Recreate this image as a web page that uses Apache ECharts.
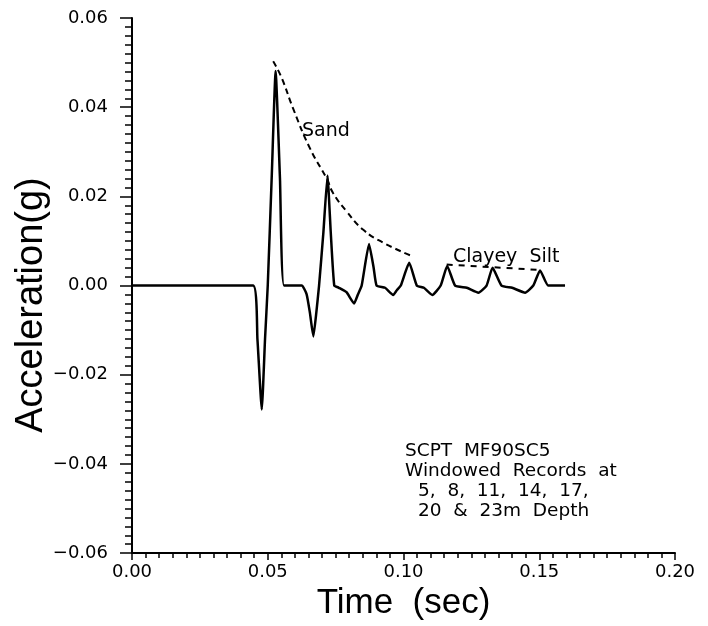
<!DOCTYPE html>
<html>
<head>
<meta charset="utf-8">
<script src="https://cdn.jsdelivr.net/npm/echarts@6/dist/echarts.min.js"></script>
<style>html,body{margin:0;padding:0;background:#fff;}#c{width:708px;height:626px;}</style>
</head>
<body>
<div id="c"></div>
<script>
// Recorded waveform (time in s, acceleration in g)
const traceTime = [0, 0.0446, 0.0462, 0.0478, 0.0490, 0.0500, 0.0515, 0.0529, 0.0545, 0.0560,
  0.0625, 0.0643, 0.0655, 0.0668, 0.0679, 0.0689, 0.0705, 0.0720, 0.0732, 0.0745,
  0.0762, 0.0790, 0.0818, 0.0832, 0.0846, 0.0873, 0.0890, 0.0901,
  0.0932, 0.0962, 0.0976, 0.0990, 0.1021, 0.1049,
  0.1075, 0.1106, 0.1137, 0.1161, 0.1190,
  0.1233, 0.1276, 0.1306, 0.1328, 0.1361,
  0.1400, 0.1448, 0.1478, 0.1503, 0.1533, 0.1595];
const traceAccel = [0, 0, -0.0120, -0.0278, -0.0120, 0, 0.0250, 0.0481, 0.0240, 0,
  0, -0.0019, -0.0060, -0.0114, -0.0060, 0, 0.0120, 0.0247, 0.0120, 0,
  -0.0005, -0.0015, -0.0040, -0.0020, 0, 0.0093, 0.0040, 0,
  -0.0005, -0.0021, -0.0010, 0, 0.0051, 0,
  -0.0005, -0.0021, 0, 0.0044, 0,
  -0.0005, -0.0016, 0, 0.0040, 0,
  -0.0005, -0.0016, 0, 0.0034, 0, 0];

// "Sand" envelope
const sandTime = [0.0520, 0.0551, 0.0594, 0.0656, 0.0717, 0.0741, 0.0791, 0.0852, 0.0926, 0.1024];
const sandAccel = [0.0503, 0.0466, 0.0396, 0.0307, 0.0240, 0.0207, 0.0166, 0.0125, 0.0096, 0.0068];

// "Clayey Silt" envelope
const siltTime = [0.1159, 0.1503];
const siltAccel = [0.0047, 0.0035];

// Axis ranges / ticks
const xRange = [0, 0.20], xStep = 0.05;
const yRange = [-0.06, 0.06], yStep = 0.02;

const noteLines = ['SCPT  MF90SC5', 'Windowed  Records  at', '5,  8,  11,  14,  17,', '20  &  23m  Depth'];

const pair = (xs, ys) => xs.map((x, i) => [x, ys[i]]);
const fmt = v => Math.abs(v) < 1e-9 ? '0.00' : (v < 0 ? '\u2212' : '') + Math.abs(v).toFixed(2);

const chart = echarts.init(document.getElementById('c'), null, {renderer: 'canvas'});
const TXT = 'DejaVu Sans';
const BIG = 'Liberation Sans';

chart.setOption({
  animation: false,
  backgroundColor: '#fff',
  grid: {left: 132, right: 33, top: 18, bottom: 66, containLabel: false},
  xAxis: {
    type: 'value', min: xRange[0], max: xRange[1], interval: xStep,
    name: 'Time  (sec)', nameLocation: 'middle', nameGap: 30,
    nameTextStyle: {fontFamily: BIG, fontSize: 35, color: '#000'},
    axisLine: {show: true, onZero: false, lineStyle: {color: '#000', width: 2}},
    axisTick: {show: true, inside: false, length: 7, lineStyle: {color: '#000', width: 1.5}},
    minorTick: {show: true, splitNumber: 10, length: 5, lineStyle: {color: '#000', width: 1.5}},
    splitLine: {show: false},
    axisLabel: {formatter: fmt, fontFamily: TXT, fontSize: 18, color: '#000', margin: 10}
  },
  yAxis: {
    type: 'value', min: yRange[0], max: yRange[1], interval: yStep,
    axisLine: {show: true, onZero: false, lineStyle: {color: '#000', width: 2}},
    axisTick: {show: true, inside: false, length: 12, lineStyle: {color: '#000', width: 1.5}},
    minorTick: {show: true, splitNumber: 10, length: 7, lineStyle: {color: '#000', width: 1.5}},
    splitLine: {show: false},
    axisLabel: {formatter: fmt, fontFamily: TXT, fontSize: 18, color: '#000', margin: 24}
  },
  series: [
    {type: 'line', data: pair(traceTime, traceAccel), showSymbol: false, smooth: 0.15,
     lineStyle: {color: '#000', width: 2.5}, z: 3},
    {type: 'line', data: pair(sandTime, sandAccel), showSymbol: false, smooth: true,
     lineStyle: {color: '#000', width: 2, type: [6, 4]}},
    {type: 'line', data: pair(siltTime, siltAccel), showSymbol: false,
     lineStyle: {color: '#000', width: 2, type: [6, 6]}}
  ],
  graphic: [
    {type: 'text', x: 32, y: 305, rotation: Math.PI / 2,
     style: {text: 'Acceleration(g)', fontFamily: BIG, fontSize: 38, fill: '#000', align: 'center', verticalAlign: 'middle'}},
    {type: 'text', x: 302, y: 131,
     style: {text: 'Sand', fontFamily: TXT, fontSize: 19, fill: '#000', align: 'left', verticalAlign: 'middle'}},
    {type: 'text', x: 453, y: 257,
     style: {text: 'Clayey  Silt', fontFamily: TXT, fontSize: 19, fill: '#000', align: 'left', verticalAlign: 'middle'}},
    {type: 'text', x: 405, y: 451,
     style: {text: noteLines[0], fontFamily: TXT, fontSize: 18.5, fill: '#000', align: 'left', verticalAlign: 'middle'}},
    {type: 'text', x: 405, y: 471,
     style: {text: noteLines[1], fontFamily: TXT, fontSize: 18.5, fill: '#000', align: 'left', verticalAlign: 'middle'}},
    {type: 'text', x: 418, y: 491,
     style: {text: noteLines[2], fontFamily: TXT, fontSize: 18.5, fill: '#000', align: 'left', verticalAlign: 'middle'}},
    {type: 'text', x: 418, y: 511,
     style: {text: noteLines[3], fontFamily: TXT, fontSize: 18.5, fill: '#000', align: 'left', verticalAlign: 'middle'}}
  ]
});
</script>
</body>
</html>
